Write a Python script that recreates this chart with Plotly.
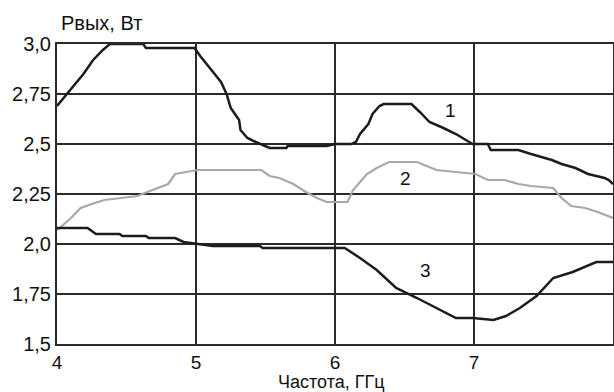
import plotly.graph_objects as go

# Curve 1
f1 = [4.00, 4.07, 4.13, 4.19, 4.26, 4.33, 4.38, 4.62, 4.64, 4.99, 5.03, 5.10, 5.18, 5.22, 5.25, 5.29,
      5.31, 5.32, 5.37, 5.43, 5.53, 5.65, 5.66, 5.94, 6.00, 6.12, 6.15, 6.18, 6.24, 6.27, 6.32, 6.35,
      6.55, 6.61, 6.68, 6.78, 6.87, 6.99, 7.10, 7.12, 7.32, 7.41, 7.56, 7.63, 7.73, 7.82, 7.94, 7.97, 8.00]
p1 = [2.69, 2.75, 2.80, 2.85, 2.92, 2.97, 3.00, 3.00, 2.98, 2.98, 2.94, 2.88, 2.81, 2.75, 2.68, 2.64,
      2.62, 2.57, 2.53, 2.51, 2.48, 2.48, 2.49, 2.49, 2.50, 2.50, 2.51, 2.55, 2.60, 2.65, 2.69, 2.70,
      2.70, 2.66, 2.61, 2.58, 2.55, 2.50, 2.50, 2.47, 2.47, 2.45, 2.42, 2.40, 2.38, 2.35, 2.33, 2.32, 2.30]

# Curve 2
f2 = [4.00, 4.02, 4.10, 4.17, 4.25, 4.34, 4.46, 4.58, 4.65, 4.73, 4.80, 4.85, 4.94, 5.01, 5.47, 5.53,
      5.60, 5.70, 5.79, 5.87, 5.94, 6.09, 6.13, 6.17, 6.23, 6.30, 6.39, 6.59, 6.73, 6.87, 7.01, 7.10,
      7.22, 7.32, 7.41, 7.57, 7.63, 7.70, 7.80, 7.89, 8.00]
p2 = [2.07, 2.08, 2.13, 2.18, 2.20, 2.22, 2.23, 2.24, 2.26, 2.28, 2.30, 2.35, 2.36, 2.37, 2.37, 2.34,
      2.33, 2.30, 2.26, 2.23, 2.21, 2.21, 2.27, 2.30, 2.35, 2.38, 2.41, 2.41, 2.37, 2.36, 2.35, 2.32,
      2.32, 2.30, 2.29, 2.28, 2.23, 2.19, 2.18, 2.16, 2.13]

# Curve 3
f3 = [4.00, 4.22, 4.28, 4.45, 4.47, 4.64, 4.66, 4.85, 4.91, 5.00, 5.12, 5.46, 5.48, 6.07, 6.18, 6.30,
      6.44, 6.59, 6.73, 6.87, 6.99, 7.14, 7.23, 7.33, 7.45, 7.57, 7.71, 7.81, 7.88, 8.00]
p3 = [2.08, 2.08, 2.05, 2.05, 2.04, 2.04, 2.03, 2.03, 2.01, 2.00, 1.99, 1.99, 1.98, 1.98, 1.93, 1.87,
      1.78, 1.73, 1.68, 1.63, 1.63, 1.62, 1.64, 1.68, 1.74, 1.83, 1.86, 1.89, 1.91, 1.91]

x_ticks = [4, 5, 6, 7, 8]
x_ticktext = ["4", "5", "6", "7", "8"]
y_ticks = [1.5, 1.75, 2.0, 2.25, 2.5, 2.75, 3.0]
y_ticktext = ["1,5", "1,75", "2,0", "2,25", "2,5", "2,75", "3,0"]

curve_labels = ["1", "2", "3"]
label_x = [6.83, 6.51, 6.65]
label_y = [2.67, 2.33, 1.87]

FONT = "Liberation Sans, Arial, sans-serif"
FS = 19
DARK = "#1c1c1c"
GRID = "#2a2a2a"

fig = go.Figure()
fig.add_trace(go.Scatter(x=f1, y=p1, mode="lines", line=dict(color=DARK, width=2.5), showlegend=False))
fig.add_trace(go.Scatter(x=f2, y=p2, mode="lines", line=dict(color="#a8a8a8", width=2.2), showlegend=False))
fig.add_trace(go.Scatter(x=f3, y=p3, mode="lines", line=dict(color=DARK, width=2.5), showlegend=False))

for t, xx, yy in zip(curve_labels, label_x, label_y):
    fig.add_annotation(x=xx, y=yy, text=t, showarrow=False, font=dict(family=FONT, size=FS, color="#111"))

fig.add_annotation(xref="paper", yref="paper", x=0.003, y=1.0, yshift=21, xanchor="left", yanchor="middle",
                   text="Рвых, Вт", showarrow=False, font=dict(family=FONT, size=20, color="#111"))
fig.add_annotation(xref="paper", yref="paper", x=0.493, y=0, yshift=-38, xanchor="center", yanchor="middle",
                   text="Частота, ГГц", showarrow=False, font=dict(family=FONT, size=18, color="#111"))

fig.update_layout(
    width=614, height=392,
    margin=dict(l=57, r=1, t=44, b=48, autoexpand=False),
    paper_bgcolor="white", plot_bgcolor="white",
    font=dict(family=FONT, size=FS, color="#111"),
)
fig.update_xaxes(range=[4, 8], tickvals=x_ticks, ticktext=x_ticktext, showgrid=True, gridcolor=GRID,
                 gridwidth=2, showline=True, linecolor=GRID, linewidth=2, mirror=True, zeroline=False,
                 ticks="", tickfont=dict(size=FS), automargin=False)
fig.update_yaxes(range=[1.5, 3.0], tickvals=y_ticks, ticktext=y_ticktext, showgrid=True, gridcolor=GRID,
                 gridwidth=2, showline=True, linecolor=GRID, linewidth=2, mirror=True, zeroline=False,
                 ticks="", tickfont=dict(size=20), automargin=False)

fig.write_html("out.html", config={"displayModeBar": False},
               post_script="document.body.style.margin='0';document.body.style.overflow='hidden';")
